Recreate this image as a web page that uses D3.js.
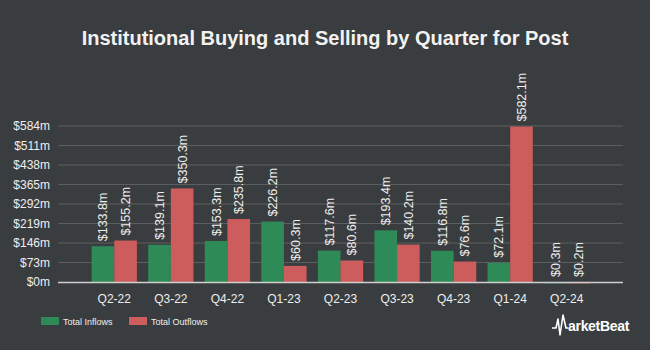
<!DOCTYPE html>
<html>
<head>
<meta charset="utf-8">
<script src="https://cdn.jsdelivr.net/npm/d3@7"></script>
<style>
  body { margin: 0; background: #3a3d3f; }
  svg { display: block; font-family: "Liberation Sans", Arial, sans-serif; }
</style>
</head>
<body>
<svg id="chart" width="650" height="350"></svg>
<script>
// quarters and values (millions of dollars)
const quarters = ['Q2-22', 'Q3-22', 'Q4-22', 'Q1-23', 'Q2-23', 'Q3-23', 'Q4-23', 'Q1-24', 'Q2-24']
const inflows = [133.8, 139.1, 153.3, 226.2, 117.6, 193.4, 116.8, 72.1, 0.3]
const outflows = [155.2, 350.3, 235.8, 60.3, 80.6, 140.2, 76.6, 582.1, 0.2]
const yTicks = [0, 73, 146, 219, 292, 365, 438, 511, 584]
const seriesNames = ['Total Inflows', 'Total Outflows']
const seriesColors = ['#2e8b57', '#cd5c5c']

const svg = d3.select('#chart')
svg.append('rect').attr('width', 650).attr('height', 350).attr('fill', '#3a3d3f')

const plotLeft = 58
const plotRight = 623
const plotTop = 126
const plotBottom = 282

const data = quarters.map((q, i) => ({ q: q, values: [inflows[i], outflows[i]] }))

const x = d3.scaleBand().domain(quarters).range([86, 595]).paddingInner(0).paddingOuter(0)
const x1 = d3.scaleBand().domain([0, 1]).range([0, x.bandwidth()]).paddingOuter(0.25)
const y = d3.scaleLinear().domain([0, 584]).range([plotBottom, plotTop])

// title
svg.append('text')
  .attr('x', 325).attr('y', 45)
  .attr('text-anchor', 'middle')
  .attr('fill', '#f2f2f2')
  .attr('font-size', 20).attr('font-weight', 'bold')
  .text('Institutional Buying and Selling by Quarter for Post')

// grid
svg.append('g')
  .selectAll('line')
  .data(yTicks.slice(1))
  .join('line')
  .attr('x1', plotLeft).attr('x2', plotRight)
  .attr('y1', d => y(d)).attr('y2', d => y(d))
  .attr('stroke', '#5c5f61').attr('stroke-width', 1)

// y axis labels
const yAxis = svg.append('g')
  .attr('transform', 'translate(' + plotLeft + ',0)')
  .call(d3.axisLeft(y).tickValues(yTicks).tickSize(0).tickPadding(8).tickFormat(d => '$' + d + 'm'))
yAxis.select('.domain').remove()
yAxis.selectAll('text').attr('fill', '#eeeeee').attr('font-size', 12).attr('font-family', '"Liberation Sans", Arial, sans-serif')

// bars
const groups = svg.append('g')
  .selectAll('g')
  .data(data)
  .join('g')
  .attr('transform', d => 'translate(' + x(d.q) + ',0)')

groups.selectAll('rect')
  .data(d => d.values.map((v, k) => ({ k: k, v: v })))
  .join('rect')
  .attr('x', d => x1(d.k))
  .attr('width', x1.bandwidth())
  .attr('y', d => y(d.v))
  .attr('height', d => Math.max(1.5, plotBottom - y(d.v)))
  .attr('fill', d => seriesColors[d.k])

groups.selectAll('text')
  .data(d => d.values.map((v, k) => ({ k: k, v: v })))
  .join('text')
  .attr('transform', d => 'translate(' + (x1(d.k) + x1.bandwidth() / 2 + 4.5) + ',' + (y(d.v) - 5) + ') rotate(-90)')
  .attr('fill', '#eeeeee')
  .attr('font-size', 12.5)
  .text(d => '$' + d.v.toFixed(1) + 'm')

// baseline
svg.append('line')
  .attr('x1', plotLeft).attr('x2', plotRight)
  .attr('y1', plotBottom + 0.5).attr('y2', plotBottom + 0.5)
  .attr('stroke', '#cfcfcf').attr('stroke-width', 1.5)

// x axis labels
const xAxis = svg.append('g')
  .attr('transform', 'translate(0,' + plotBottom + ')')
  .call(d3.axisBottom(x).tickSize(0).tickPadding(12))
xAxis.select('.domain').remove()
xAxis.selectAll('text').attr('fill', '#eeeeee').attr('font-size', 12).attr('font-family', '"Liberation Sans", Arial, sans-serif')

// legend
const legend = svg.append('g').attr('transform', 'translate(41,317)')
const legendX = [0, 88]
seriesNames.forEach((name, i) => {
  legend.append('rect').attr('x', legendX[i]).attr('y', 0).attr('width', 18).attr('height', 8).attr('fill', seriesColors[i])
  legend.append('text').attr('x', legendX[i] + 22).attr('y', 8).attr('fill', '#eeeeee').attr('font-size', 9).text(name)
})

// logo
const logo = svg.append('g').attr('transform', 'translate(552,331)')
logo.append('path')
  .attr('d', 'M0,-3 L4,-3 L6,-12 L8,4 L11,-16 L14,-3 L16,-3')
  .attr('fill', 'none').attr('stroke', '#ffffff').attr('stroke-width', 1.6).attr('stroke-linejoin', 'round')
logo.append('text')
  .attr('x', 16).attr('y', 0)
  .attr('fill', '#ffffff').attr('font-size', 14).attr('font-weight', 'bold').attr('letter-spacing', -0.3)
  .text('arketBeat')
</script>
</body>
</html>
